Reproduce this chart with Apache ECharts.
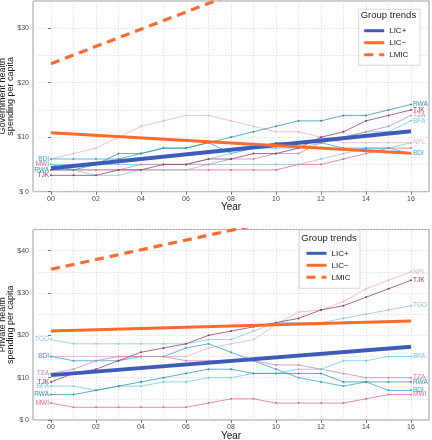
<!DOCTYPE html>
<html><head><meta charset="utf-8">
<script src="https://cdn.jsdelivr.net/npm/echarts@6/dist/echarts.min.js"></script>
<style>html,body{margin:0;padding:0;background:#fff}#c{width:432px;height:440px}</style>
</head><body><div id="c"></div>
<script>
// ---------- DATA ----------
const years = [0,1,2,3,4,5,6,7,8,9,10,11,12,13,14,15,16];
const yearTicks = [0,2,4,6,8,10,12,14,16];
const govTicks = [0,10,20,30];
const privTicks = [0,10,20,30,40];
const trendYears = [0,16];

// Government health spending per capita (top panel)
const gov_RWA = [4,4,5,7,7,8,8,9,10,11,12,13,13,14,14,15,16];
const gov_TJK = [3,3,3,4,4,5,5,6,6,7,7,8,10,11,13,14,15];
const gov_TZA = [4,4,4,4,5,5,5,5,6,6,7,7,9,10,11,12,14];
const gov_BFA = [5,5,5,5,5,5,5,6,7,8,8,8,9,10,11,11,13];
const gov_BDI = [6,6,6,6,7,8,8,9,7,8,9,9,9,8,8,8,7];
const gov_NPL = [6,7,8,10,12,13,14,14,13,12,11,11,10,9,9,9,9];
const gov_MWI = [5,4,4,4,4,4,4,4,4,4,4,5,5,6,7,8,8];
const gov_TGO = [4,4,3,3,4,4,4,5,5,5,5,5,6,7,8,8,9];
const gov_LICplus  = [4.3, 11.1];
const gov_LICminus = [10.8, 7.05];
const gov_LMIC     = [23.5, 48.8];

// Private health spending per capita (bottom panel)
const priv_TGO = [19,18,18,18,18,18,18,19,19,21,23,23,23,24,25,26,27];
const priv_NPL = [15,15,15,15,15,15,15,17,18,19,22.5,25.5,26,28,31,33,35];
const priv_TJK = [9,11,12,14,16,17,18,20,21,22,23,24,26,27,29,31,33];
const priv_TZA = [11,12,14,15,15,15,14,14,14,14,13,13,12,11,10,10,10];
const priv_BDI = [15,14,14,14,15,15,17,18,16,14,12,10,9,8,9,7,7];
const priv_BFA = [8,8,7,8,8,9,9,10,10,11,11,12,12,14,14,15,15];
const priv_RWA = [6,6,7,8,9,10,11,12,12,11,11,11,11,9,9,9,9];
const priv_MWI = [4,3,3,3,3,3,3,4,5,5,4,4,4,4,5,6,6];
const priv_LICplus  = [10.6, 17.3];
const priv_LICminus = [21.0, 23.4];
const priv_LMIC     = [35.6, 54.0];

// ---------- STYLE ----------
const colors = {
  RWA:'#2f93a3', TJK:'#8f3a68', TZA:'#d183a5', BFA:'#6fcbea',
  BDI:'#2ea3d8', NPL:'#efadc6', MWI:'#df6890', TGO:'#8cc4d0'
};
const BLUE = '#3d5cb8', ORANGE = '#ff6b2c';
const FONT = 'Liberation Sans, Arial, sans-serif';

function countrySeries(name, vals, g, leftLbl, rightLbl) {
  const c = colors[name];
  const lbl = (pos) => ({show:true, position:pos, distance:1, formatter:name,
      fontSize:6.5, color:c, fontFamily:FONT});
  return {
    type:'line', name, xAxisIndex:2*g+1, yAxisIndex:2*g+1,
    data: vals.map((v,i)=>{
      const it = {value:[years[i], v]};
      if (i===0 && leftLbl) it.label = lbl('left');
      if (i===vals.length-1 && rightLbl) it.label = lbl('right');
      return it;
    }),
    symbol:'circle', symbolSize:2, showSymbol:true,
    lineStyle:{width:0.9, color:c, opacity:0.85}, itemStyle:{color:c},
    label:{show:false}, silent:true, z:2, animation:false, emphasis:{disabled:true}
  };
}
function trendSeries(name, vals, g, color, width, dashed) {
  return {
    type:'line', name, xAxisIndex:2*g+1, yAxisIndex:2*g+1,
    data: vals.map((v,i)=>[trendYears[i], v]),
    symbol:'none', clip:true,
    lineStyle:{width, color, type: dashed ? [9,6] : 'solid', cap:'butt'},
    itemStyle:{color}, silent:true, z:5, animation:false, emphasis:{disabled:true}
  };
}

const GRID_LEFT = 33, GRID_W = 396;
const grids = [
  {left:GRID_LEFT, top:1, width:GRID_W, height:190.7},
  {left:GRID_LEFT, top:229.5, width:GRID_W, height:190.5}
].map(g=>Object.assign(g,{show:true, borderColor:'#9a9a9a', borderWidth:1, backgroundColor:'#fff',
   containLabel:false, outerBoundsMode:'none'}));

const gridLine = {show:true, lineStyle:{color:'#dcdcdc', width:0.8, type:[1.5,1.5]}};
function xAxes(g) {
  return [
    {type:'value', gridIndex:g, position:'bottom', min:-0.8, max:16.8,
     axisLine:{show:false}, axisTick:{show:false, customValues:years},
     axisLabel:{show:false}, splitLine:gridLine},
    {type:'value', gridIndex:g, position:'bottom', min:-0.8, max:16.8,
     axisLine:{show:false},
     axisTick:{show:true, customValues:yearTicks, length:3, lineStyle:{color:'#555', width:0.8}},
     axisLabel:{customValues:yearTicks, margin:4, fontSize:7, color:'#4d4d4d', fontFamily:FONT,
       formatter:v=>String(v).padStart(2,'0')},
     splitLine:{show:false},
     name:'Year', nameLocation:'middle', nameGap:11, nameMoveOverlap:false,
     nameTextStyle:{fontSize:10, color:'#1a1a1a', fontFamily:FONT, verticalAlign:'top'}}
  ];
}
function yAxes(g, max, ticks, title) {
  const all = []; for (let v=0; v<=max; v+=5) all.push(v);
  return [
    {type:'value', gridIndex:g, position:'left', min:0, max,
     axisLine:{show:false}, axisTick:{show:false, customValues:all},
     axisLabel:{show:false}, splitLine:gridLine},
    {type:'value', gridIndex:g, position:'left', min:0, max,
     axisLine:{show:false},
     axisTick:{show:true, customValues:ticks, length:3, lineStyle:{color:'#555', width:0.8}},
     axisLabel:{customValues:ticks, margin:4, fontSize:7, color:'#4d4d4d', fontFamily:FONT,
       formatter:v=> v===0 ? '$ 0' : '$'+v},
     splitLine:{show:false},
     name:title, nameLocation:'middle', nameRotate:90, nameGap:18, nameMoveOverlap:false,
     nameTextStyle:{fontSize:9, color:'#1a1a1a', fontFamily:FONT, lineHeight:8.5}}
  ];
}

const series = [
  countrySeries('MWI', gov_MWI, 0, true, false),
  countrySeries('TGO', gov_TGO, 0, false, false),
  countrySeries('NPL', gov_NPL, 0, false, true),
  countrySeries('BDI', gov_BDI, 0, true, true),
  countrySeries('BFA', gov_BFA, 0, false, true),
  countrySeries('TZA', gov_TZA, 0, false, true),
  countrySeries('TJK', gov_TJK, 0, true, true),
  countrySeries('RWA', gov_RWA, 0, true, true),
  trendSeries('LIC+', gov_LICplus, 0, BLUE, 4, false),
  trendSeries('LIC\u2212', gov_LICminus, 0, ORANGE, 3, false),
  trendSeries('LMIC', gov_LMIC, 0, ORANGE, 3.2, true),

  countrySeries('MWI', priv_MWI, 1, true, true),
  countrySeries('NPL', priv_NPL, 1, false, true),
  countrySeries('TGO', priv_TGO, 1, true, true),
  countrySeries('BDI', priv_BDI, 1, true, true),
  countrySeries('TZA', priv_TZA, 1, true, true),
  countrySeries('BFA', priv_BFA, 1, true, true),
  countrySeries('RWA', priv_RWA, 1, true, true),
  countrySeries('TJK', priv_TJK, 1, true, true),
  trendSeries('LIC+', priv_LICplus, 1, BLUE, 4, false),
  trendSeries('LIC\u2212', priv_LICminus, 1, ORANGE, 3, false),
  trendSeries('LMIC', priv_LMIC, 1, ORANGE, 3.2, true)
];

const legendNames = ['LIC+','LIC\u2212','LMIC'];
function legend(left, top) {
  return {show:true, orient:'vertical', left, top, padding:0, itemGap:4,
    itemWidth:20, itemHeight:10, data:legendNames, selectedMode:false, z:20,
    itemStyle:{opacity:0}, lineStyle:{width:3},
    textStyle:{fontSize:8, color:'#1a1a1a', fontFamily:FONT}};
}
function box(x, y, w, h, titleY) {
  return [
    {type:'rect', z:15, shape:{x, y, width:w, height:h}, style:{fill:'#fff', stroke:'#cfcfcf', lineWidth:0.8}},
    {type:'text', z:16, x:x+2, y:titleY, style:{text:'Group trends', fontSize:9.5, fill:'#1a1a1a',
      fontFamily:FONT, verticalAlign:'middle'}}
  ];
}

const chart = echarts.init(document.getElementById('c'), null, {renderer:'canvas'});
chart.setOption({
  animation:false,
  backgroundColor:'#fff',
  grid: grids,
  xAxis: [...xAxes(0), ...xAxes(1)],
  yAxis: [...yAxes(0, 35, govTicks, 'Government health\nspending per capita'),
          ...yAxes(1, 45, privTicks, 'Private health\nspending per capita')],
  legend: [legend(362.7, 26.7), legend(305, 249.3)],
  graphic: [...box(358.7, 9.3, 61.3, 56, 15.7), ...box(299.3, 230, 60.7, 58.3, 238.3)],
  series
});
</script></body></html>
